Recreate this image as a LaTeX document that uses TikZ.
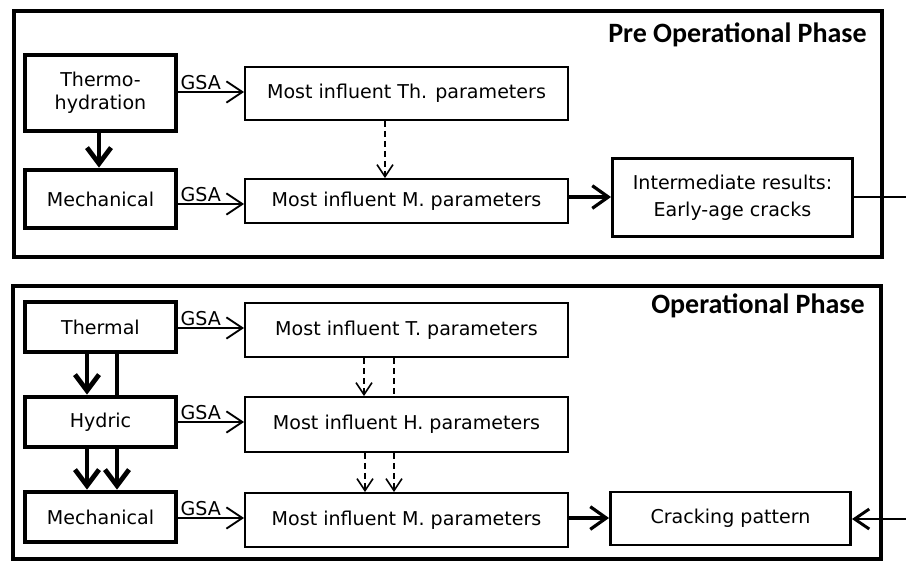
\documentclass[tikz,border=0pt]{standalone}
\usepackage{fontspec}
\setmainfont{DejaVu Sans}
\newfontfamily\titlefont{Carlito}
\usetikzlibrary{arrows.meta}
\begin{document}
\begin{tikzpicture}[x=0.75pt,y=-0.75pt,
  phasebox/.style={draw,line width=3.6pt},
  lbox/.style={draw,line width=3.6pt,minimum width=113.25pt,inner sep=0pt,align=center,font=\fontsize{14.3}{17.5}\selectfont},
  pbox/.style={draw,line width=1.4pt,minimum width=242.25pt,inner sep=0pt,font=\fontsize{14.3}{17}\selectfont},
  rbox/.style={draw,line width=2.2pt,minimum width=180pt,inner sep=0pt,align=center,font=\fontsize{14.3}{20}\selectfont},
  gsa/.style={line width=1.4pt,-{Straight Barb[length=12pt,width=16pt,line width=1.4pt]}},
  gsalabel/.style={font=\fontsize{14.3}{17}\selectfont,anchor=south west,inner sep=1pt},
  thick arrow/.style={line width=3.6pt,-{Straight Barb[length=12pt,width=18pt,line width=3.6pt]}},
  thick line/.style={line width=3.6pt},
  dash arrow/.style={line width=1.2pt,dash pattern=on 4.5pt off 3pt,-{Straight Barb[length=9pt,width=12pt,line width=1.2pt]}},
  dash line/.style={line width=1.2pt,dash pattern=on 4.5pt off 3pt},
  res arrow/.style={line width=2.4pt,-{Straight Barb[length=12pt,width=17pt,line width=2.4pt]}},
  title/.style={font=\titlefont\bfseries\fontsize{21}{24}\selectfont,anchor=base east,inner sep=0pt}]
\useasboundingbox (0,0) rectangle (906,565);
\fill[white] (0,0) rectangle (906,565);
% phase boxes
\draw[phasebox] (14,11) rectangle (882,257);
\draw[phasebox] (13,286) rectangle (881,559);
\node[title] (t1) at (867,42) {Pre Operational Phase};
\node[title] (t2) at (865,313) {Operational Phase};
% pre operational
\node[lbox,minimum height=57pt] (th) at (100.5,93) {Thermo-\\hydration};
\node[lbox,minimum height=43.5pt] (me1) at (100.5,199) {Mechanical};
\node[pbox,minimum height=39.75pt] (pth) at (406.5,93.5) {Most influent Th. parameters};
\node[pbox,minimum height=33pt] (pm1) at (406.5,201) {Most influent M. parameters};
\node[rbox,minimum height=59pt] (int) at (732.5,197.5) {Intermediate results:\\Early-age cracks};
\draw[thick arrow] (th.south -| 99,0) -- (me1.north -| 99,0);
\draw[gsa] (th.east |- 0,92) -- node[gsalabel,pos=0] {GSA} (pth.west |- 0,92);
\draw[gsa] (me1.east |- 0,204) -- node[gsalabel,pos=0] {GSA} (pm1.west |- 0,204);
\draw[dash arrow] (pth.south -| 385,0) -- (pm1.north -| 385,0);
\draw[res arrow] (pm1.east |- 0,197) -- (int.west |- 0,197);
\coordinate (fb1) at (906,197);
\draw[line width=2.2pt] (int.east |- fb1) -- (fb1);
% operational
\node[lbox,minimum height=37.5pt] (thm) at (100.5,327) {Thermal};
\node[lbox,minimum height=37.5pt] (hy) at (100.5,422) {Hydric};
\node[lbox,minimum height=37.5pt] (me2) at (100.5,517) {Mechanical};
\node[pbox,minimum height=40.5pt] (pt) at (406.5,330) {Most influent T. parameters};
\node[pbox,minimum height=41.25pt] (ph) at (406.5,424.5) {Most influent H. parameters};
\node[pbox,minimum height=40.5pt] (pm2) at (406.5,520) {Most influent M. parameters};
\node[rbox,minimum height=39.75pt] (crk) at (730.5,518.5) {Cracking pattern};
\draw[thick arrow] (thm.south -| 87,0) -- (hy.north -| 87,0);
\draw[thick line] (thm.south -| 117,0) -- (hy.north -| 117,0);
\draw[thick arrow] (hy.south -| 87,0) -- (me2.north -| 87,0);
\draw[thick arrow] (hy.south -| 117,0) -- (me2.north -| 117,0);
\draw[gsa] (thm.east |- 0,328) -- node[gsalabel,pos=0] {GSA} (pt.west |- 0,328);
\draw[gsa] (hy.east |- 0,422) -- node[gsalabel,pos=0] {GSA} (ph.west |- 0,422);
\draw[gsa] (me2.east |- 0,518) -- node[gsalabel,pos=0] {GSA} (pm2.west |- 0,518);
\draw[dash arrow] (pt.south -| 364,0) -- (ph.north -| 364,0);
\draw[dash line] (pt.south -| 394,0) -- (ph.north -| 394,0);
\draw[dash arrow] (ph.south -| 365,0) -- (pm2.north -| 365,0);
\draw[dash arrow] (ph.south -| 394,0) -- (pm2.north -| 394,0);
\draw[res arrow] (pm2.east |- 0,518) -- (crk.west |- 0,518);
\coordinate (fb2) at (906,519);
\draw[line width=2.2pt,-{Straight Barb[length=11pt,width=15pt,line width=2.2pt]}] (fb2) -- (crk.east |- fb2);
\end{tikzpicture}
\end{document}
